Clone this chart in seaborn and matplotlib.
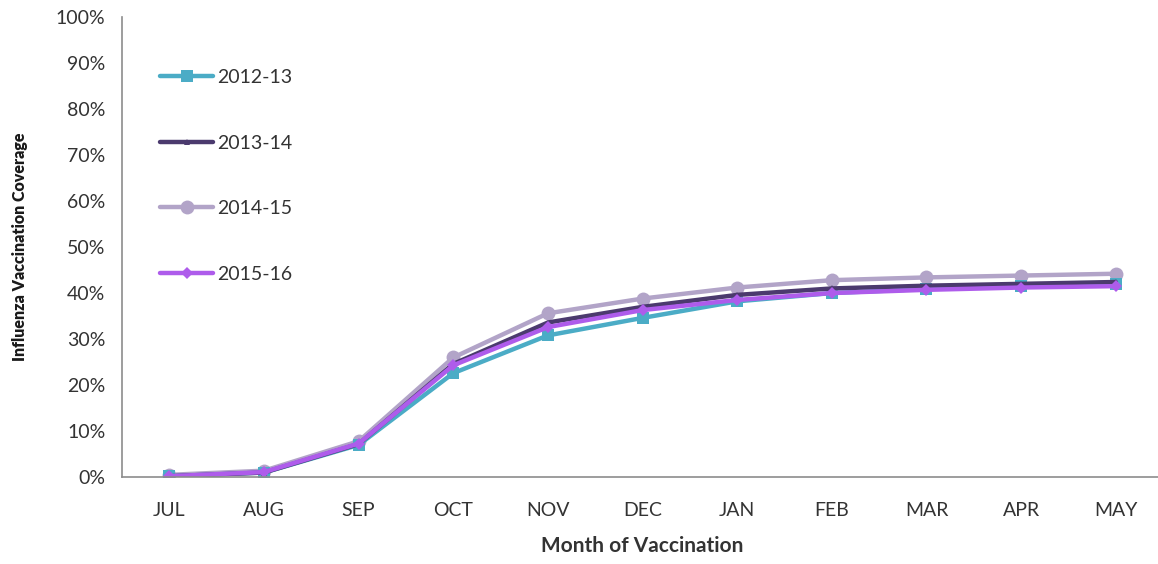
import matplotlib
matplotlib.use("Agg")
import matplotlib.pyplot as plt
import seaborn as sns
import pandas as pd
import numpy as np

months = ["JUL", "AUG", "SEP", "OCT", "NOV", "DEC", "JAN", "FEB", "MAR", "APR", "MAY"]
s2012_13 = [0.2, 1.0, 7.0, 22.6, 30.8, 34.6, 38.2, 40.0, 40.9, 41.6, 42.0]
s2013_14 = [0.2, 1.0, 7.2, 24.6, 33.6, 37.0, 39.6, 41.0, 41.6, 42.0, 42.4]
s2014_15 = [0.5, 1.4, 7.8, 26.0, 35.6, 38.8, 41.2, 42.8, 43.4, 43.8, 44.2]
s2015_16 = [0.2, 1.1, 7.3, 24.3, 32.6, 36.3, 38.5, 40.0, 40.7, 41.2, 41.5]
seasons = ["2012-13", "2013-14", "2014-15", "2015-16"]

series = [s2012_13, s2013_14, s2014_15, s2015_16]
rows = []
for name, vals in zip(seasons, series):
    for i, (m, v) in enumerate(zip(months, vals)):
        rows.append({"idx": i, "Month": m, "Season": name, "Coverage": v})
df = pd.DataFrame(rows)

sns.set_theme(style="white")
plt.rcParams["font.family"] = ["Lato", "DejaVu Sans"]

palette = {"2012-13": "#4BACC6", "2013-14": "#4B3A6E", "2014-15": "#B2A4C8", "2015-16": "#AE5CEB"}
markers = {"2012-13": "s", "2013-14": "^", "2014-15": "o", "2015-16": "D"}
sizes_m = {"2012-13": 8, "2013-14": 5, "2014-15": 10, "2015-16": 6}

fig = plt.figure(figsize=(11.58, 5.64), dpi=100)
ax = fig.add_axes([0.1054, 0.154, 0.899, 0.816])

for name in ["2014-15", "2012-13", "2013-14", "2015-16"]:
    sub = df[df["Season"] == name]
    sns.lineplot(data=sub, x="idx", y="Coverage", ax=ax, color=palette[name],
                 marker=markers[name], markersize=sizes_m[name], markeredgewidth=0,
                 linewidth=3.2, label=name, legend=False)

ax.set_xlim(-0.5, 10.5)
ax.set_ylim(0, 100)
ax.set_yticks(np.arange(0, 101, 10))
ax.set_yticklabels([f"{v}%" for v in range(0, 101, 10)])
ax.set_xticks(range(len(months)))
ax.set_xticklabels(months)
ax.set_xticks(np.arange(-0.5, 10.6, 1), minor=True)
ax.tick_params(axis="x", which="major", length=0, pad=18, labelsize=14, labelcolor="#333333")
ax.tick_params(axis="x", which="minor", length=6, width=1.2, color="#8c8c8c", direction="out")
ax.tick_params(axis="y", which="major", length=6, width=1.2, color="#8c8c8c", direction="out",
               labelsize=14, labelcolor="#333333", pad=6)

for sp in ["top", "right"]:
    ax.spines[sp].set_visible(False)
for sp in ["left", "bottom"]:
    ax.spines[sp].set_color("#8c8c8c")
    ax.spines[sp].set_linewidth(1.2)

ax.set_xlabel("Month of Vaccination", fontsize=15, fontweight="bold", color="#333333", labelpad=12)
ax.set_ylabel("Influenza Vaccination Coverage", fontsize=11.5, fontweight="heavy", color="#1a1a1a", labelpad=20)

handles, labels = ax.get_legend_handles_labels()
order = [labels.index(s) for s in seasons]
leg = ax.legend([handles[i] for i in order], [labels[i] for i in order],
                loc="upper left", bbox_to_anchor=(0.02, 0.925), frameon=False,
                fontsize=14, labelspacing=2.5, handlelength=2.7, handletextpad=0.2)
for t in leg.get_texts():
    t.set_color("#333333")

fig.savefig("out.png", dpi=100)
